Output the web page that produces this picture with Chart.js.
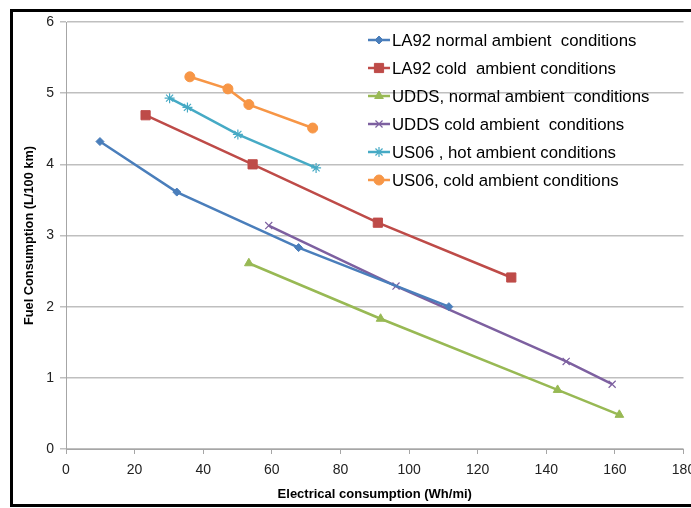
<!DOCTYPE html>
<html>
<head>
<meta charset="utf-8">
<script src="https://cdn.jsdelivr.net/npm/chart.js@4/dist/chart.umd.min.js"></script>
<style>
  html, body { margin: 0; padding: 0; background: #fff; }
  #wrap { width: 691px; height: 508px; position: relative; }
</style>
</head>
<body>
<div id="wrap"><canvas id="graph1" width="691" height="508"></canvas></div>
<script>
// values (x = Wh/mi, y = L/100 km)
const la92NormalX = [9.9, 32.3, 67.8, 111.6];
const la92NormalY = [4.32, 3.61, 2.83, 2.00];
const la92ColdX = [23.2, 54.4, 90.9, 129.8];
const la92ColdY = [4.69, 4.00, 3.18, 2.41];
const uddsNormalX = [53.3, 91.7, 143.3, 161.3];
const uddsNormalY = [2.61, 1.83, 0.83, 0.48];
const uddsColdX = [59.1, 96.2, 145.8, 159.2];
const uddsColdY = [3.14, 2.29, 1.23, 0.91];
const us06HotX = [30.2, 35.4, 50.1, 72.9];
const us06HotY = [4.93, 4.80, 4.42, 3.95];
const us06ColdX = [36.1, 47.2, 53.3, 71.9];
const us06ColdY = [5.23, 5.06, 4.84, 4.51];

const seriesNames = [
    'LA92 normal ambient  conditions',
    'LA92 cold  ambient conditions',
    'UDDS, normal ambient  conditions',
    'UDDS cold ambient  conditions',
    'US06 , hot ambient conditions',
    'US06, cold ambient conditions'
];
const xTicks = [0, 20, 40, 60, 80, 100, 120, 140, 160, 180];
const yTicks = [0, 1, 2, 3, 4, 5, 6];

function pairs(xs, ys){
    return xs.map((x, i) => ({x: x, y: ys[i]}));
}

function series(label, xs, ys, color, style, radius){
    return {
        label: label,
        data: pairs(xs, ys),
        showLine: true,
        borderColor: color,
        backgroundColor: color,
        pointBorderColor: color,
        pointBackgroundColor: color,
        borderWidth: 2.5,
        pointStyle: style,
        pointRadius: radius,
        pointBorderWidth: (style === 'crossRot' || style === 'star') ? 1.2 : 1,
        tension: 0
    };
}

// black frame round the whole picture
const framePlugin = {
    id: 'frame',
    beforeDraw(chart){
        const ctx = chart.ctx;
        ctx.save();
        ctx.fillStyle = '#fff';
        ctx.fillRect(0, 0, chart.width, chart.height);
        ctx.strokeStyle = '#000';
        ctx.lineWidth = 3;
        ctx.strokeRect(11.5, 10.5, 720, 495);
        ctx.restore();
    }
};

// legend drawn inside the plot, line + marker like the original
const insideLegend = {
    id: 'insideLegend',
    afterDatasetsDraw(chart){
        const ctx = chart.ctx;
        ctx.save();
        ctx.font = '16.8px "Liberation Sans", Arial, sans-serif';
        ctx.textBaseline = 'middle';
        chart.data.datasets.forEach((ds, i) => {
            const y = 40 + i * 28;
            ctx.strokeStyle = ds.borderColor;
            ctx.lineWidth = 2.5;
            ctx.beginPath();
            ctx.moveTo(368, y);
            ctx.lineTo(390, y);
            ctx.stroke();
            ctx.fillStyle = ds.backgroundColor;
            ctx.lineWidth = ds.pointBorderWidth;
            Chart.helpers.drawPoint(ctx, {pointStyle: ds.pointStyle, radius: ds.pointRadius, rotation: 0, borderWidth: ds.pointBorderWidth}, 379, y);
            ctx.fillStyle = '#000';
            ctx.fillText(ds.label, 392, y + 1);
        });
        ctx.restore();
    }
};

function createChart(){
    const ctx = document.getElementById('graph1');
    new Chart(ctx, {
        type: 'scatter',
        data: {
            datasets: [
                series(seriesNames[0], la92NormalX, la92NormalY, '#4A7EBB', 'rectRot', 4),
                series(seriesNames[1], la92ColdX, la92ColdY, '#BE4B48', 'rect', 6.5),
                series(seriesNames[2], uddsNormalX, uddsNormalY, '#98B954', 'triangle', 5),
                series(seriesNames[3], uddsColdX, uddsColdY, '#7D60A0', 'crossRot', 5),
                series(seriesNames[4], us06HotX, us06HotY, '#46AAC5', 'star', 5),
                series(seriesNames[5], us06ColdX, us06ColdY, '#F79646', 'circle', 5)
            ]
        },
        options: {
            responsive: false,
            animation: false,
            layout: { padding: { left: 0, top: 22, right: 7, bottom: 0 } },
            scales: {
                x: {
                    type: 'linear',
                    min: 0,
                    max: 180,
                    afterFit(scale){
                        scale.height = 59;
                        scale.paddingRight = 0;   // let the "180" label run off the edge like the original
                        scale.paddingLeft = 0;
                    },
                    afterBuildTicks(scale){ scale.ticks = xTicks.map(v => ({value: v})); },
                    grid: {
                        drawOnChartArea: false,
                        drawTicks: true,
                        tickLength: 5,
                        color: '#A6A6A6'
                    },
                    border: { display: true, color: '#A6A6A6' },
                    ticks: {
                        padding: 8,
                        maxRotation: 0,
                        autoSkip: false,
                        color: '#222',
                        font: { family: '"Liberation Sans", Arial, sans-serif', size: 14 }
                    },
                    title: {
                        display: true,
                        text: 'Electrical consumption (Wh/mi)',
                        color: '#000',
                        padding: { top: 0, bottom: 6 },
                        font: { family: '"Liberation Sans", Arial, sans-serif', size: 13, weight: 'bold' }
                    }
                },
                y: {
                    type: 'linear',
                    min: 0,
                    max: 6,
                    afterFit(scale){ scale.width = 66; },
                    afterBuildTicks(scale){ scale.ticks = yTicks.map(v => ({value: v})); },
                    grid: {
                        drawTicks: true,
                        tickLength: 6,
                        color: '#BFBFBF',
                        lineWidth: 1.5
                    },
                    border: { display: true, color: '#A6A6A6' },
                    ticks: {
                        padding: 6,
                        color: '#222',
                        font: { family: '"Liberation Sans", Arial, sans-serif', size: 14 }
                    },
                    title: {
                        display: true,
                        text: 'Fuel Consumption (L/100 km)',
                        color: '#000',
                        padding: { top: 22, bottom: 0 },
                        font: { family: '"Liberation Sans", Arial, sans-serif', size: 12.8, weight: 'bold' }
                    }
                }
            },
            plugins: {
                legend: { display: false },
                tooltip: { enabled: false }
            }
        },
        plugins: [framePlugin, insideLegend]
    });
}

createChart();
</script>
</body>
</html>
